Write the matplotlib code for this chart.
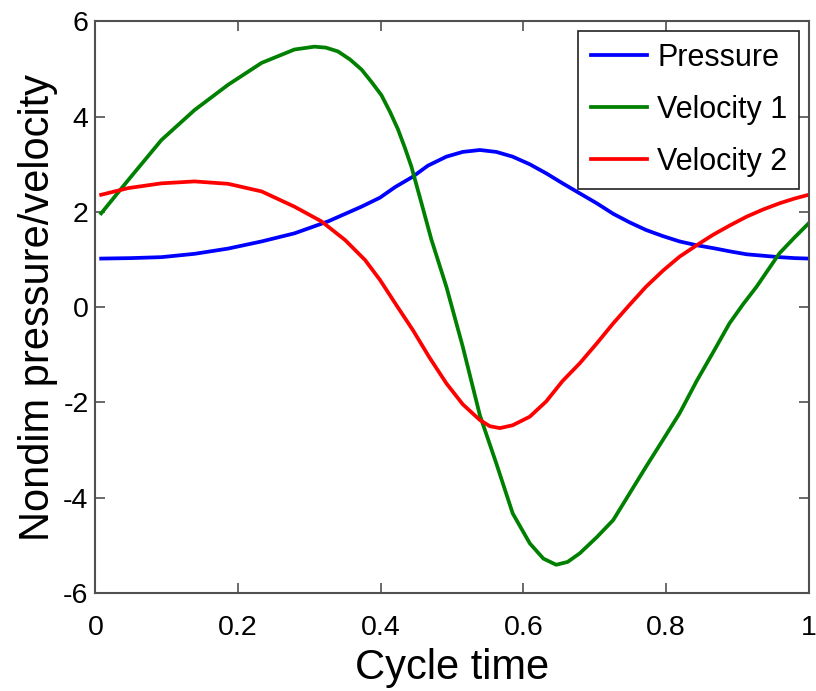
import matplotlib.pyplot as plt
import numpy as np

# values
t_pressure = [0.008, 0.05, 0.0925, 0.139, 0.186, 0.233, 0.279, 0.326, 0.373, 0.399,
              0.42, 0.445, 0.466, 0.492, 0.515, 0.539, 0.562, 0.585, 0.609, 0.632,
              0.655, 0.679, 0.703, 0.726, 0.749, 0.772, 0.796, 0.819, 0.843, 0.866,
              0.89, 0.913, 0.936, 0.959, 0.98, 1.0]
pressure = [1.02, 1.03, 1.05, 1.12, 1.23, 1.38, 1.55, 1.80, 2.11, 2.30,
            2.52, 2.74, 2.97, 3.16, 3.26, 3.30, 3.26, 3.16, 3.00, 2.81,
            2.60, 2.39, 2.18, 1.96, 1.78, 1.62, 1.49, 1.38, 1.30, 1.24,
            1.17, 1.11, 1.08, 1.05, 1.03, 1.02]

t_vel1 = [0.008, 0.046, 0.0925, 0.139, 0.186, 0.233, 0.279, 0.307, 0.323, 0.340,
          0.357, 0.373, 0.387, 0.401, 0.413, 0.424, 0.434, 0.443, 0.457, 0.471,
          0.492, 0.515, 0.539, 0.562, 0.585, 0.609, 0.628, 0.646, 0.662, 0.679,
          0.703, 0.726, 0.749, 0.772, 0.796, 0.819, 0.843, 0.866, 0.889, 0.908,
          0.927, 0.943, 0.959, 0.98, 1.0]
vel1 = [1.97, 2.67, 3.51, 4.14, 4.67, 5.13, 5.41, 5.47, 5.45, 5.37,
        5.20, 4.99, 4.73, 4.45, 4.10, 3.74, 3.34, 2.95, 2.19, 1.42,
        0.43, -0.83, -2.27, -3.28, -4.33, -4.96, -5.28, -5.41, -5.35, -5.17,
        -4.83, -4.47, -3.91, -3.35, -2.78, -2.23, -1.55, -0.95, -0.34, 0.06,
        0.43, 0.78, 1.13, 1.46, 1.76]

t_vel2 = [0.008, 0.046, 0.0925, 0.139, 0.186, 0.233, 0.279, 0.317, 0.350, 0.378,
          0.399, 0.422, 0.445, 0.468, 0.492, 0.515, 0.539, 0.553, 0.567, 0.585,
          0.609, 0.632, 0.655, 0.679, 0.703, 0.726, 0.749, 0.772, 0.796, 0.819,
          0.843, 0.866, 0.89, 0.913, 0.936, 0.959, 0.98, 1.0]
vel2 = [2.36, 2.50, 2.60, 2.64, 2.59, 2.43, 2.11, 1.80, 1.41, 0.99,
        0.57, 0.04, -0.48, -1.05, -1.60, -2.04, -2.37, -2.50, -2.54, -2.48,
        -2.30, -1.98, -1.55, -1.18, -0.76, -0.34, 0.05, 0.43, 0.77, 1.06,
        1.30, 1.52, 1.72, 1.90, 2.05, 2.18, 2.28, 2.36]

x_ticks = [0, 0.2, 0.4, 0.6, 0.8, 1]
x_labels = ["0", "0.2", "0.4", "0.6", "0.8", "1"]
y_ticks = [-6, -4, -2, 0, 2, 4, 6]

plt.rcParams['font.family'] = ['Liberation Sans', 'DejaVu Sans']
plt.rcParams['axes.unicode_minus'] = False

fig = plt.figure(figsize=(8.16, 6.91), dpi=100)
ax = fig.add_axes([0.117, 0.142, 0.874, 0.827])

ax.plot(t_pressure, pressure, color=(0, 0, 1), lw=2.7, label="Pressure")
ax.plot(t_vel1, vel1, color=(0, 0.5, 0), lw=2.7, label="Velocity 1")
ax.plot(t_vel2, vel2, color=(1, 0, 0), lw=2.7, label="Velocity 2")

ax.set_xlim(0, 1)
ax.set_ylim(-6, 6)
ax.set_xticks(x_ticks)
ax.set_xticklabels(x_labels)
ax.set_yticks(y_ticks)
ax.tick_params(direction='in', length=7, width=1.2, color='#505050',
               top=True, right=True, labelsize=20.5)
ax.tick_params(axis='x', pad=16)
ax.tick_params(axis='y', pad=5)
for s in ax.spines.values():
    s.set_color('#505050')
    s.set_linewidth(1.5)

ax.set_xlabel("Cycle time", fontsize=30, labelpad=5)
ax.set_ylabel("Nondim pressure/velocity", fontsize=30, labelpad=4)

leg = ax.legend(loc='upper right', fontsize=22, fancybox=False, framealpha=1,
                edgecolor='#222222', handlelength=1.85, labelspacing=0.72,
                borderaxespad=0.3, handletextpad=0.32, borderpad=0.4)
leg.get_frame().set_linewidth(1.2)

fig.savefig("out.png", dpi=100)
